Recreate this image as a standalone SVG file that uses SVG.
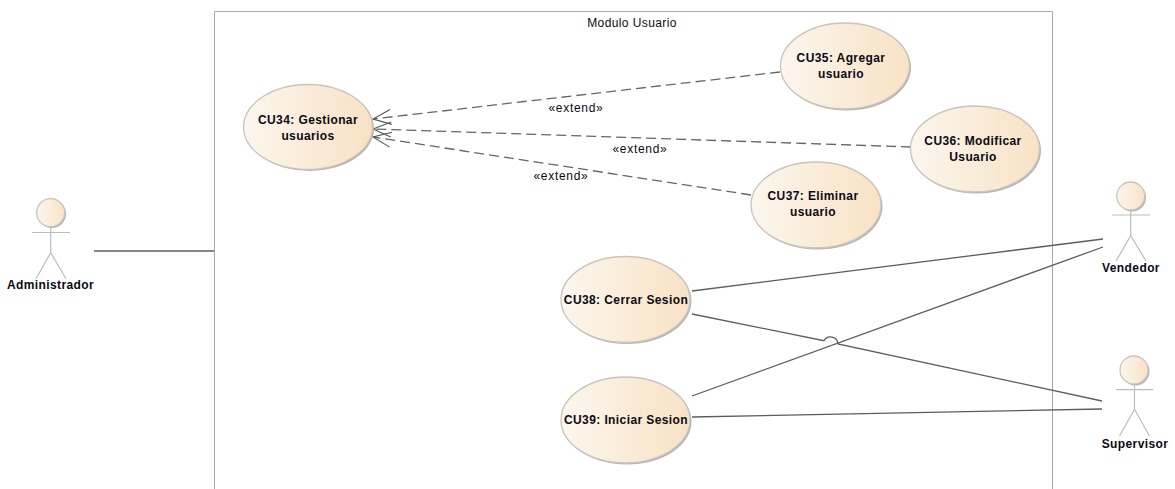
<svg xmlns="http://www.w3.org/2000/svg" width="1175" height="489" viewBox="0 0 1175 489">
<style>
text{font-family:"Liberation Sans",Arial,sans-serif;fill:#0a0a14;font-size:12px;letter-spacing:.4px;text-anchor:middle}
.e{letter-spacing:.7px}
.b{font-weight:bold}
.uc{fill:url(#g);stroke:#c8c4bc;stroke-width:1.3}
.sh{fill:#b4b4b4}
.act{fill:none;stroke:#bdbdbd;stroke-width:1.2}
.c{fill:none;stroke:#5c5c5c;stroke-width:1.3}
.d{fill:none;stroke:#666;stroke-width:1.3;stroke-dasharray:10 5;marker-end:url(#open)}
</style>
<defs>
<linearGradient id="g" x1="0" y1="0" x2="1" y2="0"><stop offset="0" stop-color="#fcf6ee"/><stop offset="1" stop-color="#f8e2c4"/></linearGradient>
<marker id="open" markerUnits="userSpaceOnUse" markerWidth="24" markerHeight="24" refX="20" refY="12" orient="auto"><path d="M2 4.500L20 12L2 19.500" fill="none" stroke="#555" stroke-width="1.1"/></marker>
</defs>
<rect width="1175" height="489" fill="#fff"/>
<g id="boundary">
<path d="M214.500 489V11.500H1052.500V489" fill="none" stroke="#a8a8a8" stroke-width="1"/>
<text x="632" y="27">Modulo Usuario</text>
</g>
<g id="connectors">
<path class="c" d="M94 251H214"/>
<path class="c" d="M692 291L1103 239"/>
<path class="c" d="M692 396L1103 247"/>
<path class="c" d="M692 314L824 340.700A7.500 7.500 0 0 1 838 344L1102 401"/>
<path class="c" d="M692 417L1102 409"/>
<path class="d" d="M780 72L373 119"/>
<path class="d" d="M911 147L373 129"/>
<path class="d" d="M751 195L373 137"/>
<text class="e" x="576" y="112">«extend»</text>
<text class="e" x="640" y="153">«extend»</text>
<text class="e" x="561" y="180">«extend»</text>
</g>
<g id="cu34"><ellipse class="sh" cx="309.500" cy="128.500" rx="64.500" ry="42.500"/><ellipse class="uc" cx="308" cy="127" rx="64.500" ry="42.500"/><text class="b" x="308" y="124">CU34: Gestionar</text><text class="b" x="308" y="140">usuarios</text></g>
<g id="cu35"><ellipse class="sh" cx="846.500" cy="67.500" rx="64.500" ry="43"/><ellipse class="uc" cx="845" cy="66" rx="64.500" ry="43"/><text class="b" x="841" y="62">CU35: Agregar</text><text class="b" x="841" y="78">usuario</text></g>
<g id="cu36"><ellipse class="sh" cx="976.500" cy="150.500" rx="64.500" ry="43"/><ellipse class="uc" cx="975" cy="149" rx="64.500" ry="43"/><text class="b" x="973" y="145">CU36: Modificar</text><text class="b" x="973" y="161">Usuario</text></g>
<g id="cu37"><ellipse class="sh" cx="817.500" cy="206.500" rx="65" ry="43"/><ellipse class="uc" cx="816" cy="205" rx="65" ry="43"/><text class="b" x="813" y="200">CU37: Eliminar</text><text class="b" x="813" y="216">usuario</text></g>
<g id="cu38"><ellipse class="sh" cx="627" cy="301" rx="64.500" ry="43"/><ellipse class="uc" cx="625.500" cy="299.500" rx="64.500" ry="43"/><text class="b" x="626" y="304">CU38: Cerrar Sesion</text></g>
<g id="cu39"><ellipse class="sh" cx="627" cy="421.500" rx="64.500" ry="43"/><ellipse class="uc" cx="625.500" cy="420" rx="64.500" ry="43"/><text class="b" x="626" y="424">CU39: Iniciar Sesion</text></g>
<g id="administrador"><circle class="sh" cx="52" cy="214" r="14"/><circle class="uc" cx="50.700" cy="212.700" r="14"/><path class="act" d="M32 232.500H70M50.700 227V252.700M36 278.700L50.700 252.700L66 278.700"/><text class="b" x="50.500" y="289">Administrador</text></g>
<g id="vendedor"><circle class="sh" cx="1132" cy="197.500" r="14"/><circle class="uc" cx="1130.700" cy="196" r="14"/><path class="act" d="M1112 215H1150M1130.700 210V235.700M1116 261L1130.700 235.700L1146 261"/><text class="b" x="1131" y="272">Vendedor</text></g>
<g id="supervisor"><circle class="sh" cx="1135.500" cy="371.500" r="14"/><circle class="uc" cx="1134" cy="370" r="14"/><path class="act" d="M1116 389.700H1153M1134.500 384V409.300L1119.500 436M1134.500 409.300L1149.500 436"/><text class="b" x="1135" y="448">Supervisor</text></g>
</svg>
